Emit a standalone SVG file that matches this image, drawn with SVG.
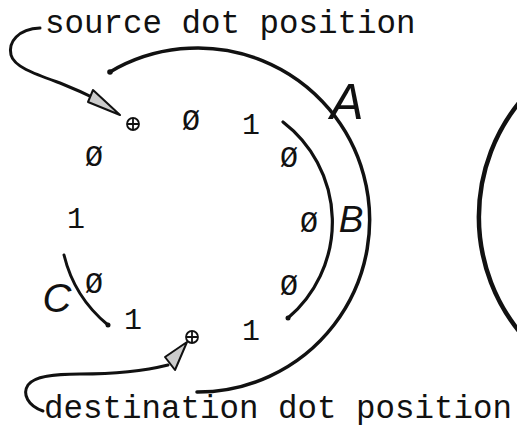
<svg xmlns="http://www.w3.org/2000/svg" width="517" height="433" viewBox="0 0 517 433">
  <style>
    .mono { font-family: "Liberation Mono", "Courier New", monospace; fill: #111; }
    .lbl { font-size: 32.5px; }
    .dig { font-size: 30px; text-anchor: middle; }
    .hand { font-family: "Liberation Sans", "DejaVu Sans", sans-serif; font-style: italic; fill: #111; text-anchor: middle; }
    .arc { fill: none; stroke: #111; stroke-linecap: round; }
    .arrow { fill: none; stroke: #111; stroke-width: 3; stroke-linecap: round; }
    .head { fill: #ccc; stroke: #111; stroke-width: 2; stroke-linejoin: round; }
    .dotmark { fill: none; stroke: #111; stroke-width: 1.8; }
  </style>
  <rect width="517" height="433" fill="#fff"/>

  <g id="source-label">
    <text class="mono lbl" x="45" y="33">source dot position</text>
  </g>
  <g id="destination-label">
    <text class="mono lbl" x="44" y="418">destination dot position</text>
  </g>

  <g id="source-dot">
    <circle class="dotmark" cx="133" cy="124" r="6"/>
    <path class="dotmark" d="M127,124 H139 M133,118 V130"/>
  </g>
  <g id="destination-dot">
    <circle class="dotmark" cx="192" cy="337" r="6"/>
    <path class="dotmark" d="M186,337 H198 M192,331 V343"/>
  </g>

  <g id="digits">
    <text class="mono dig" x="191" y="130">Ø</text>
    <text class="mono dig" x="251" y="134">1</text>
    <text class="mono dig" x="94" y="166">Ø</text>
    <text class="mono dig" x="289" y="167">Ø</text>
    <text class="mono dig" x="76" y="228">1</text>
    <text class="mono dig" x="309" y="232">Ø</text>
    <text class="mono dig" x="94" y="293">Ø</text>
    <text class="mono dig" x="289" y="295">Ø</text>
    <text class="mono dig" x="133" y="329">1</text>
    <text class="mono dig" x="251" y="340">1</text>
  </g>

  <g id="arc-A">
    <path class="arc" stroke-width="3.5" d="M110,72 A172,172 0 1 1 197,392"/>
    <circle cx="110" cy="72" r="2.8" fill="#111"/>
    <text class="hand" x="347" y="119" font-size="50">A</text>
  </g>
  <g id="arc-B">
    <path class="arc" stroke-width="3.2" d="M283,122 A126,126 0 0 1 288,318"/>
    <circle cx="288" cy="318" r="2.5" fill="#111"/>
    <text class="hand" x="351" y="232" font-size="37">B</text>
  </g>
  <g id="arc-C">
    <path class="arc" stroke-width="3" d="M64,255 A130,130 0 0 0 108,325"/>
    <circle cx="108" cy="325" r="2.5" fill="#111"/>
    <text class="hand" x="57" y="312" font-size="40">C</text>
  </g>

  <g id="right-circle">
    <path class="arc" stroke-width="4.5" d="M523,98 A182.5,182.5 0 0 0 523,336"/>
  </g>

  <g id="connectors">
    <path class="arrow" d="M40,28 C18,29 8,42 11,55 C14,67 35,74 60,83 C75,89 86,94 98,100"/>
    <polygon class="head" points="93,90 88,102 120,115"/>
    <path class="arrow" d="M43,411 C28,406 22,394 28,385 C34,376 55,374 80,374 C110,374 140,372 168,365"/>
    <polygon class="head" points="165,357 175,370 187,342"/>
  </g>
</svg>
